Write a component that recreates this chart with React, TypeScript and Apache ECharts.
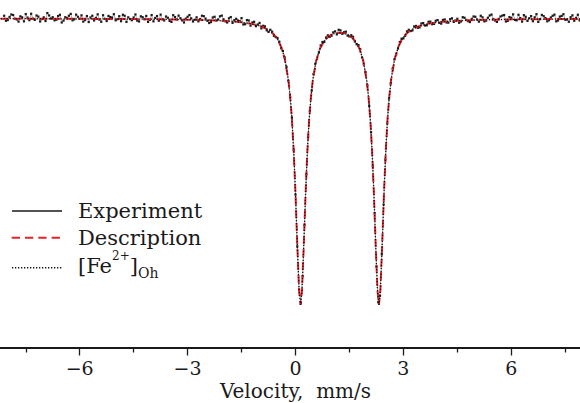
import React, { useEffect, useRef } from "react";
import * as echarts from "echarts";

// Experimental spectrum, channels on the 0.1 mm/s grid: [velocity mm/s, relative transmission]
const experiment: number[][] = [
  [-8.1, 1.0019], [-8.0, 0.9989], [-7.9, 1.0028], [-7.8, 0.9998], [-7.7, 0.9978], [-7.6, 1.0008],
  [-7.5, 1.0031], [-7.4, 0.9988], [-7.3, 0.9998], [-7.2, 1.0021], [-7.1, 0.9979], [-7.0, 1.0008],
  [-6.9, 1.0038], [-6.8, 0.9999], [-6.7, 0.9987], [-6.6, 1.0017], [-6.5, 0.9972], [-6.4, 1.0009],
  [-6.3, 1.0019], [-6.2, 0.9987], [-6.1, 1.0027], [-6.0, 0.9997], [-5.9, 0.9978], [-5.8, 1.0017],
  [-5.7, 1.0007], [-5.6, 0.9986], [-5.5, 1.0029], [-5.4, 0.9977], [-5.3, 0.9997], [-5.2, 1.0018],
  [-5.1, 1.0006], [-5.0, 0.9987], [-4.9, 1.0016], [-4.8, 1.0026], [-4.7, 0.9976], [-4.6, 0.9996],
  [-4.5, 1.0007], [-4.4, 0.9985], [-4.3, 1.0015], [-4.2, 0.9995], [-4.1, 0.9976], [-4.0, 1.0024],
  [-3.9, 1.0004], [-3.8, 0.9984], [-3.7, 0.9994], [-3.6, 1.0014], [-3.5, 0.9983], [-3.4, 1.0023],
  [-3.3, 0.9993], [-3.2, 1.0002], [-3.1, 0.9972], [-3.0, 1.0012], [-2.9, 1.0001], [-2.8, 0.9991],
  [-2.7, 0.998], [-2.6, 1.0019], [-2.5, 0.9999], [-2.4, 0.9968], [-2.3, 1.0007], [-2.2, 0.9986],
  [-2.1, 1.0015], [-2.0, 0.9994], [-1.9, 0.9972], [-1.8, 1.001], [-1.7, 0.9988], [-1.6, 0.9986],
  [-1.5, 1.0003], [-1.4, 0.996], [-1.3, 0.9986], [-1.2, 0.9972], [-1.1, 0.9946], [-1.0, 0.9969],
  [-0.9, 0.9949], [-0.8, 0.9917], [-0.7, 0.9921], [-0.6, 0.9878], [-0.5, 0.9864], [-0.4, 0.9793],
  [-0.3, 0.9728], [-0.2, 0.9565], [-0.1, 0.9309], [0.0, 0.877], [0.1, 0.8106], [0.2, 0.8201],
  [0.3, 0.8911], [0.4, 0.9355], [0.5, 0.9612], [0.6, 0.9719], [0.7, 0.9812], [0.8, 0.9836],
  [0.9, 0.9882], [1.0, 0.9879], [1.1, 0.991], [1.2, 0.9921], [1.3, 0.9893], [1.4, 0.9908],
  [1.5, 0.9874], [1.6, 0.9872], [1.7, 0.982], [1.8, 0.9786], [1.9, 0.968], [2.0, 0.9533],
  [2.1, 0.9205], [2.2, 0.8641], [2.3, 0.8019], [2.4, 0.8353], [2.5, 0.9015], [2.6, 0.9441],
  [2.7, 0.965], [2.8, 0.9749], [2.9, 0.9836], [3.0, 0.9861], [3.1, 0.991], [3.2, 0.9912],
  [3.3, 0.9944], [3.4, 0.9935], [3.5, 0.9965], [3.6, 0.9951], [3.7, 0.9977], [3.8, 0.996],
  [3.9, 0.9984], [4.0, 0.9969], [4.1, 0.999], [4.2, 0.9972], [4.3, 0.9995], [4.4, 0.9976],
  [4.5, 0.9998], [4.6, 0.9979], [4.7, 1.0005], [4.8, 0.9981], [4.9, 0.9997], [5.0, 1.0012],
  [5.1, 0.9978], [5.2, 1.0008], [5.3, 0.9985], [5.4, 1.0021], [5.5, 0.9996], [5.6, 0.9976],
  [5.7, 1.0014], [5.8, 1.0024], [5.9, 0.9983], [6.0, 1.0004], [6.1, 0.999], [6.2, 1.0026],
  [6.3, 0.9978], [6.4, 1.0012], [6.5, 1.0002], [6.6, 0.9981], [6.7, 1.003], [6.8, 0.9995],
  [6.9, 1.0016], [7.0, 0.998], [7.1, 1.0007], [7.2, 1.0027], [7.3, 0.9986], [7.4, 1.0018],
  [7.5, 0.9991], [7.6, 0.9977], [7.7, 1.0022], [7.8, 1.0004], [7.9, 0.9987], [8.0, 1.0015],
  [8.1, 0.9996],
];

// Experimental channels lying between the ones above
const experimentMid: number[][] = [
  [-8.05, 0.9984], [-7.95, 1.0011], [-7.85, 1.0024], [-7.75, 0.9993], [-7.65, 1.0015], [-7.55, 0.998],
  [-7.45, 1.0006], [-7.35, 1.0033], [-7.25, 0.999], [-7.15, 1.0013], [-7.05, 0.9996], [-6.95, 0.9982],
  [-6.85, 1.0021], [-6.75, 1.0009], [-6.65, 0.9991], [-6.55, 1.0026], [-6.45, 0.9985], [-6.35, 1.0003],
  [-6.25, 1.0032], [-6.15, 0.9994], [-6.05, 1.0012], [-5.95, 1.0022], [-5.85, 0.9989], [-5.75, 0.9975],
  [-5.65, 1.0019], [-5.55, 1.0004], [-5.45, 0.9992], [-5.35, 1.0023], [-5.25, 0.9982], [-5.15, 1.001],
  [-5.05, 1.003], [-4.95, 0.9995], [-4.85, 0.9981], [-4.75, 1.0019], [-4.65, 1.0008], [-4.55, 0.9988],
  [-4.45, 1.0028], [-4.35, 0.9979], [-4.25, 1.0009], [-4.15, 1.0018], [-4.05, 0.999], [-3.95, 0.998],
  [-3.85, 1.0017], [-3.75, 1.0027], [-3.65, 0.9986], [-3.55, 1.0005], [-3.45, 0.9976], [-3.35, 1.001],
  [-3.25, 1.002], [-3.15, 0.9987], [-3.05, 0.9999], [-2.95, 1.0024], [-2.85, 0.9979], [-2.75, 1.0008],
  [-2.65, 0.9996], [-2.55, 1.0016], [-2.45, 0.9984], [-2.35, 0.9975], [-2.25, 1.0012], [-2.15, 0.9993],
  [-2.05, 1.002], [-1.95, 0.998], [-1.85, 1.0001], [-1.75, 0.9969], [-1.65, 0.9998], [-1.55, 0.9981],
  [-1.45, 0.9958], [-1.35, 0.9989], [-1.25, 0.995], [-1.15, 0.9977], [-1.05, 0.9958], [-0.95, 0.9931],
  [-0.85, 0.9945], [-0.75, 0.9906], [-0.65, 0.9908], [-0.55, 0.9871], [-0.45, 0.9838], [-0.35, 0.9773],
  [-0.25, 0.9663], [-0.15, 0.9452], [-0.05, 0.9083], [0.05, 0.8409], [0.15, 0.8013], [0.25, 0.8557],
  [0.35, 0.9176], [0.45, 0.9496], [0.55, 0.9684], [0.65, 0.9762], [0.75, 0.9836], [0.85, 0.9867],
  [0.95, 0.9871], [1.05, 0.9903], [1.15, 0.9889], [1.25, 0.9917], [1.35, 0.9904], [1.45, 0.988],
  [1.55, 0.9883], [1.65, 0.9839], [1.75, 0.9814], [1.85, 0.9728], [1.95, 0.9624], [2.05, 0.9389],
  [2.15, 0.897], [2.25, 0.8268], [2.35, 0.8064], [2.45, 0.8701], [2.55, 0.9268], [2.65, 0.9547],
  [2.75, 0.9715], [2.85, 0.979], [2.95, 0.9859], [3.05, 0.9879], [3.15, 0.9921], [3.25, 0.9916],
  [3.35, 0.9948], [3.45, 0.9938], [3.55, 0.9968], [3.65, 0.9952], [3.75, 0.9978], [3.85, 0.9962],
  [3.95, 0.9989], [4.05, 0.9964], [4.15, 0.9993], [4.25, 0.9971], [4.35, 1.0001], [4.45, 0.9986],
  [4.55, 0.997], [4.65, 1.0009], [4.75, 0.999], [4.85, 0.9975], [4.95, 1.0014], [5.05, 0.9993],
  [5.15, 1.0019], [5.25, 0.998], [5.35, 1.0005], [5.45, 1.0027], [5.55, 0.9986], [5.65, 0.9997],
  [5.75, 1.002], [5.85, 0.9979], [5.95, 1.001], [6.05, 1.0029], [6.15, 0.9987], [6.25, 1.0003],
  [6.35, 1.0023], [6.45, 0.9983], [6.55, 1.0017], [6.65, 1.0008], [6.75, 0.9976], [6.85, 1.0025],
  [6.95, 1.0003], [7.05, 0.9988], [7.15, 1.0019], [7.25, 0.998], [7.35, 1.0013], [7.45, 1.003],
  [7.55, 0.9993], [7.65, 1.0009], [7.75, 0.9984], [7.85, 1.0026], [7.95, 1.0001], [8.05, 0.999],
];

// Fitted doublet ([Fe2+]Oh) — velocity grid and values
const fitVelocity: number[] = [
  -8.2, -7.0, -6.0, -5.0, -4.0, -3.5, -3.0, -2.5, -2.0, -1.75, -1.5, -1.25, -1.0, -0.85, -0.7,
  -0.6, -0.5, -0.4, -0.3, -0.2, -0.15, -0.1, -0.05, 0.0, 0.05, 0.1, 0.14, 0.18, 0.23, 0.28,
  0.33, 0.38, 0.43, 0.48, 0.58, 0.68, 0.78, 0.9, 1.0, 1.1, 1.23, 1.36, 1.46, 1.56, 1.68, 1.78,
  1.88, 1.98, 2.03, 2.08, 2.13, 2.18, 2.23, 2.28, 2.32, 2.36, 2.41, 2.46, 2.51, 2.56, 2.61,
  2.66, 2.76, 2.86, 2.96, 3.06, 3.16, 3.31, 3.46, 3.71, 3.96, 4.21, 4.46, 4.96, 5.46, 5.96,
  6.46, 7.46, 8.2,
];
const fitValue: number[] = [
  0.99986, 0.99981, 0.99975, 0.99966, 0.99949, 0.99936, 0.99917, 0.99887, 0.99835, 0.99794,
  0.99735, 0.99641, 0.99488, 0.99336, 0.99107, 0.98876, 0.98542, 0.9803, 0.97198, 0.95742,
  0.94597, 0.92997, 0.90769, 0.87772, 0.84169, 0.80994, 0.80003, 0.80985, 0.84148, 0.87739,
  0.90724, 0.9294, 0.94527, 0.9566, 0.97087, 0.97888, 0.98364, 0.98702, 0.98867, 0.9896,
  0.99001, 0.9896, 0.98867, 0.98702, 0.98364, 0.97888, 0.97087, 0.9566, 0.94527, 0.9294,
  0.90724, 0.87739, 0.84148, 0.80985, 0.80003, 0.80994, 0.84169, 0.87772, 0.90769, 0.92997,
  0.94597, 0.95742, 0.97198, 0.9803, 0.98542, 0.98876, 0.99107, 0.99336, 0.99488, 0.99641,
  0.99735, 0.99794, 0.99835, 0.99887, 0.99917, 0.99936, 0.99949, 0.99966, 0.9997,
];

const legendNames = ["Experiment", "Description", "[Fe2+]Oh"];

const FONT = "DejaVu Serif";

export default function App() {
  const ref = useRef<HTMLDivElement>(null);
  useEffect(() => {
    if (!ref.current) return;
    const chart = echarts.init(ref.current, null, { renderer: "svg" });
    const fit = fitVelocity.map((v, i) => [v, fitValue[i]]);
    const expAll = experiment.concat(experimentMid).sort((a, b) => a[0] - b[0]);
    chart.setOption({
      animation: false,
      backgroundColor: "#ffffff",
      grid: {
        left: -28.2,
        right: -39.2,
        top: 0,
        bottom: 55.5,
        containLabel: false,
        outerBoundsMode: "none",
      },
      xAxis: {
        type: "value",
        min: -9,
        max: 9,
        interval: 3,
        name: "Velocity,  mm/s",
        nameLocation: "middle",
        nameGap: 33,
        nameMoveOverlap: false,
        nameTextStyle: { fontFamily: FONT, fontSize: 20, color: "#1a1a1a", verticalAlign: "top" },
        axisLine: { show: true, onZero: false, lineStyle: { color: "#1a1a1a", width: 1.8 } },
        axisTick: { show: true, length: 8, lineStyle: { color: "#1a1a1a", width: 1.3 } },
        minorTick: { show: true, splitNumber: 2, length: 5, lineStyle: { color: "#1a1a1a", width: 1.3 } },
        splitLine: { show: false },
        axisLabel: {
          margin: 11,
          fontFamily: FONT,
          fontSize: 19,
          color: "#1a1a1a",
          showMinLabel: false,
          showMaxLabel: false,
          formatter: (v: number) => String(v).replace("-", "\u2212"),
        },
      },
      yAxis: { type: "value", min: 0.7703, max: 1.0129, show: false },
      series: [
        {
          name: legendNames[0],
          type: "line",
          data: expAll,
          symbol: "rect",
          symbolSize: 2.2,
          showSymbol: true,
          showAllSymbol: true,
          itemStyle: { color: "#1a1a1a" },
          lineStyle: { color: "#555555", width: 0.5 },
          z: 2,
        },
        {
          name: legendNames[1],
          type: "line",
          data: fit,
          symbol: "none",
          lineStyle: { color: "#e3232a", width: 2, type: [8, 5] },
          z: 3,
        },
        {
          name: legendNames[2],
          type: "line",
          data: fit,
          symbol: "none",
          lineStyle: { color: "#111111", width: 1.3, type: [1.3, 1.7] },
          z: 4,
        },
      ],
      graphic: [
        { type: "line", shape: { x1: 12, y1: 211, x2: 62, y2: 211 }, style: { stroke: "#1a1a1a", lineWidth: 1.3 } },
        {
          type: "line",
          shape: { x1: 11.7, y1: 237.7, x2: 60, y2: 237.7 },
          style: { stroke: "#e3232a", lineWidth: 2, lineDash: [8.3, 5] },
        },
        {
          type: "line",
          shape: { x1: 12, y1: 267.7, x2: 62, y2: 267.7 },
          style: { stroke: "#111111", lineWidth: 1.5, lineDash: [1.3, 1.7] },
        },
        {
          type: "text",
          x: 78,
          y: 211,
          style: { text: legendNames[0], fontFamily: FONT, fontSize: 21, fill: "#1a1a1a", verticalAlign: "middle" },
        },
        {
          type: "text",
          x: 78,
          y: 237.7,
          style: { text: legendNames[1], fontFamily: FONT, fontSize: 21, fill: "#1a1a1a", verticalAlign: "middle" },
        },
        {
          type: "text",
          x: 78,
          y: 266,
          style: {
            text: "{a|[Fe}{sup|2+}{a|]}{sub|Oh}",
            verticalAlign: "middle",
            fill: "#1a1a1a",
            rich: {
              a: { fontFamily: FONT, fontSize: 21, lineHeight: 44, verticalAlign: "middle", fill: "#1a1a1a" },
              sup: { fontFamily: FONT, fontSize: 12, verticalAlign: "top", padding: [6, 0, 0, 0], fill: "#1a1a1a" },
              sub: { fontFamily: FONT, fontSize: 14, verticalAlign: "middle", padding: [13, 0, 0, 0], fill: "#1a1a1a" },
            },
          },
        },
      ],
    });
    return () => chart.dispose();
  }, []);
  return (
    <div
      ref={ref}
      style={{ position: "fixed", left: 0, top: 0, width: 580, height: 403, background: "#fff" }}
    />
  );
}
